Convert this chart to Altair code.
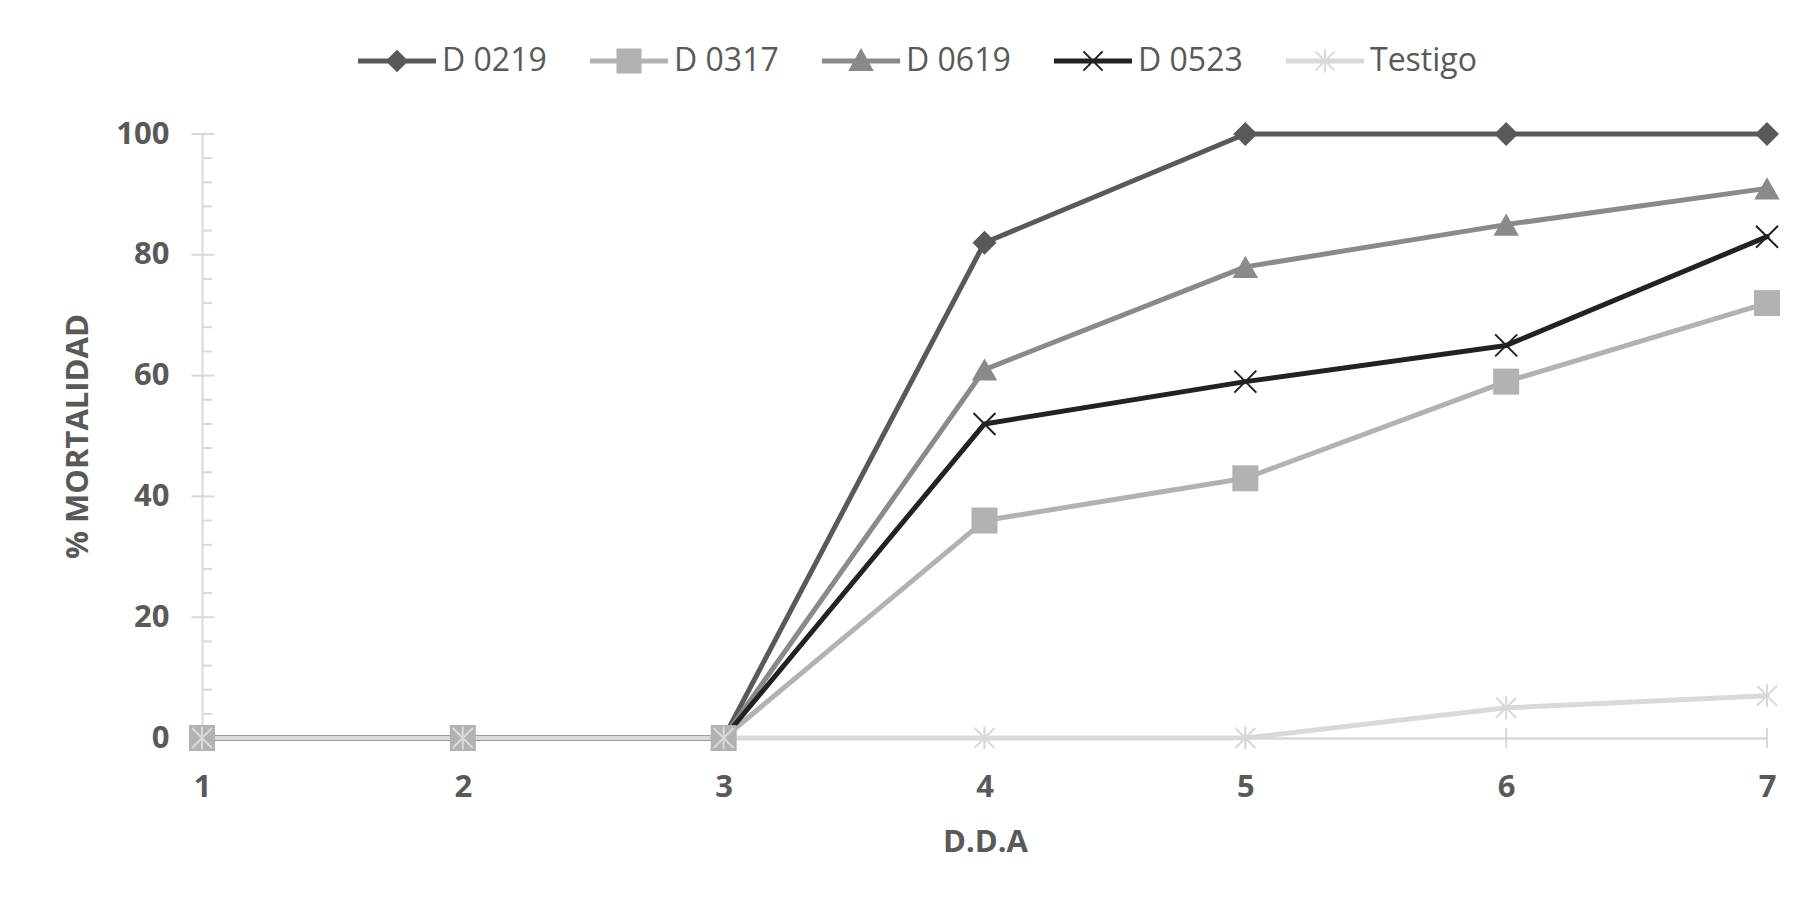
import altair as alt
import pandas as pd

# ---- data ----
series_names = ["D 0219", "D 0317", "D 0619", "D 0523", "Testigo"]
dda = [1, 2, 3, 4, 5, 6, 7]
d0219 = [0, 0, 0, 82, 100, 100, 100]
d0317 = [0, 0, 0, 36, 43, 59, 72]
d0619 = [0, 0, 0, 61, 78, 85, 91]
d0523 = [0, 0, 0, 52, 59, 65, 83]
testigo = [0, 0, 0, 0, 0, 5, 7]
series_values = [d0219, d0317, d0619, d0523, testigo]
series_colors = ["#595959", "#b2b2b2", "#8a8a8a", "#222222", "#d9d9d9"]

x_ticks = [1, 2, 3, 4, 5, 6, 7]
y_ticks = [0, 20, 40, 60, 80, 100]
y_minor = [v for v in range(4, 100, 4) if v % 20 != 0]

FONT = "Open Sans"
TXT = "#595959"
AX = "#d9d9d9"

rows = []
for name, vals in zip(series_names, series_values):
    for d, v in zip(dda, vals):
        rows.append({"serie": name, "dda": d, "val": v})
df = pd.DataFrame(rows)

xs = alt.Scale(domain=[1, 7], nice=False, zero=False)
ys = alt.Scale(domain=[0, 100], nice=False, zero=False)
xaxis = alt.Axis(values=x_ticks, format="d", ticks=False, grid=False,
                 domainColor=AX, domainWidth=2.5, labelFlush=False,
                 labelFont=FONT, labelFontSize=31, labelFontWeight="bold", labelColor=TXT,
                 labelPadding=49, labelBaseline="middle",
                 title="D.D.A", titleFont=FONT, titleFontSize=31, titleFontWeight="bold",
                 titleColor=TXT, titleX=783, titleY=104, titleBaseline="middle", titleAlign="center")
yaxis = alt.Axis(values=y_ticks, format="d", ticks=False, grid=False,
                 domainColor=AX, domainWidth=2, labelFlush=False,
                 labelFont=FONT, labelFontSize=31, labelFontWeight="bold", labelColor=TXT,
                 labelPadding=33, labelBaseline="middle",
                 title="% MORTALIDAD", titleFont=FONT, titleFontSize=31, titleFontWeight="bold",
                 titleColor=TXT, titleX=-124, titleY=302, titleAngle=270,
                 titleBaseline="middle", titleAlign="center")


def xy():
    return dict(x=alt.X("dda:Q", scale=xs, axis=xaxis),
                y=alt.Y("val:Q", scale=ys, axis=yaxis))


layers = []

# tick marks (crossing major ticks, inner minor ticks)
xt = pd.DataFrame({"dda": x_ticks, "val": [0] * len(x_ticks)})
ytm = pd.DataFrame({"dda": [1] * len(y_ticks), "val": y_ticks})
ytn = pd.DataFrame({"dda": [1] * len(y_minor), "val": y_minor})
layers.append(alt.Chart(xt).mark_tick(orient="vertical", size=20, thickness=2, color=AX, opacity=1).encode(**xy()))
layers.append(alt.Chart(ytm).mark_tick(orient="horizontal", size=23, thickness=2, color=AX, opacity=1, xOffset=1).encode(**xy()))
layers.append(alt.Chart(ytn).mark_tick(orient="horizontal", size=10, thickness=2, color=AX, opacity=1, xOffset=5).encode(**xy()))

# lines
for name, col in zip(series_names, series_colors):
    layers.append(
        alt.Chart(df).transform_filter(alt.datum.serie == name)
        .mark_line(strokeWidth=5, color=col, strokeCap="round", strokeJoin="round")
        .encode(**xy())
    )

# markers
X_PATH = "M-1,-1L1,1M1,-1L-1,1"
STAR_PATH = "M-1,-1L1,1M1,-1L-1,1M0,-1.15L0,1.15"
marker_specs = {
    "D 0219": dict(shape="diamond", size=576, filled=True),
    "D 0619": dict(shape="triangle-up", size=650, filled=True),
    "D 0523": dict(shape=X_PATH, size=484, filled=False, strokeWidth=2),
    "D 0317": dict(shape="square", size=676, filled=True),
    "Testigo": dict(shape=STAR_PATH, size=400, filled=False, strokeWidth=2),
}
for name in ["D 0219", "D 0619", "D 0523", "D 0317", "Testigo"]:
    col = series_colors[series_names.index(name)]
    spec = marker_specs[name]
    layers.append(
        alt.Chart(df).transform_filter(alt.datum.serie == name)
        .mark_point(color=col, opacity=1, **spec)
        .encode(**xy())
    )

# legend-only layer (no rows drawn), Excel-like line+marker symbols
LINE = "M-3.17,-0.13L3.17,-0.13L3.17,0.13L-3.17,0.13Z"
legend_paths = [
    LINE + "M-0.83,0L0,-0.83L0.83,0L0,0.83Z",
    LINE + "M-0.96,-0.96L0.96,-0.96L0.96,0.96L-0.96,0.96Z",
    LINE + "M0,-0.92L0.92,0.76L-0.92,0.76Z",
    LINE + "M-0.8,-0.8L0.8,0.8M0.8,-0.8L-0.8,0.8",
    LINE + "M-0.8,-0.8L0.8,0.8M0.8,-0.8L-0.8,0.8M0,-0.95L0,0.95",
]
leg = alt.Legend(title=None, orient="none", legendX=179, legendY=-89, direction="horizontal",
                 symbolSize=576, symbolStrokeWidth=2, labelOffset=29, columnPadding=39,
                 labelFont=FONT, labelFontSize=32, labelColor=TXT, padding=0, symbolOpacity=1)
layers.append(
    alt.Chart(df).transform_filter("false")
    .mark_point(filled=True, opacity=1, strokeWidth=2)
    .encode(
        **xy(),
        shape=alt.Shape("serie:N", scale=alt.Scale(domain=series_names, range=legend_paths), legend=leg),
        fill=alt.Fill("serie:N", scale=alt.Scale(domain=series_names, range=series_colors), legend=leg),
        stroke=alt.Stroke("serie:N", scale=alt.Scale(domain=series_names, range=series_colors), legend=leg),
    )
)

chart = (
    alt.layer(*layers)
    .properties(width=1565, height=604,
                autosize=alt.AutoSizeParams(type="none"),
                padding={"left": 194, "top": 126, "right": 32, "bottom": 156},
                background="white")
    .configure_view(strokeWidth=0)
)

chart.save("out.html", embed_options={"renderer": "svg", "actions": False})
